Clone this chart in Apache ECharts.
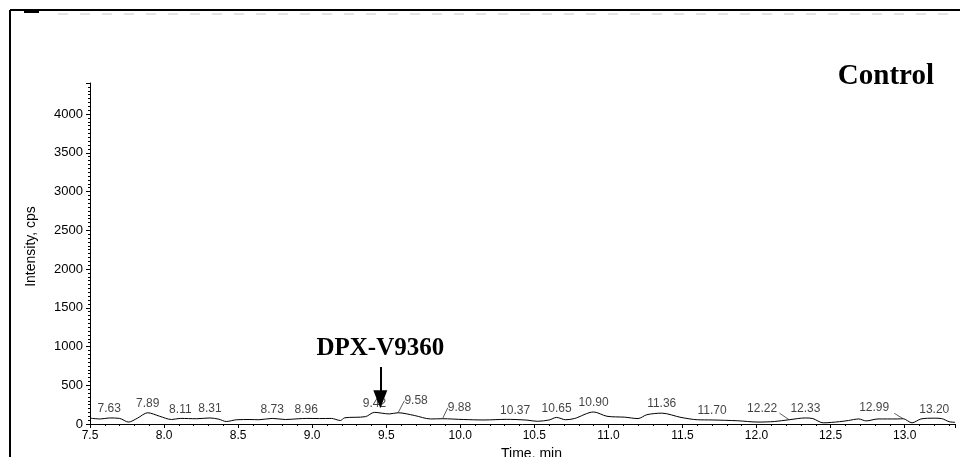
<!DOCTYPE html>
<html>
<head>
<meta charset="utf-8">
<script src="https://cdn.jsdelivr.net/npm/echarts@6/dist/echarts.min.js"></script>
<style>html,body{margin:0;padding:0;background:#fff;overflow:hidden}#c{width:960px;height:457px}</style>
</head>
<body>
<div id="c"></div>
<script>
// Chromatogram trace (time in min, intensity in cps)
var times = [7.50,7.57,7.63,7.70,7.76,7.82,7.89,7.97,8.05,8.11,8.22,8.31,8.37,8.42,8.49,8.58,8.64,8.73,8.82,8.91,8.96,9.05,9.13,9.19,9.22,9.36,9.42,9.52,9.58,9.69,9.80,9.88,10.02,10.16,10.31,10.37,10.45,10.52,10.60,10.65,10.71,10.77,10.90,10.99,11.11,11.20,11.26,11.36,11.49,11.60,11.70,11.87,12.01,12.12,12.22,12.33,12.38,12.45,12.56,12.62,12.69,12.74,12.82,12.95,12.99,13.05,13.11,13.20,13.25,13.30,13.34];
var intensity = [75,65,78,72,25,75,145,100,58,72,68,78,62,32,55,58,55,72,58,68,72,70,72,45,80,95,150,130,145,110,65,68,58,52,60,58,50,35,52,85,55,70,155,100,88,70,120,140,85,55,52,42,25,32,55,78,70,15,30,45,65,40,65,65,68,15,65,75,70,30,22];
// Peak annotations
var peakTimes = [7.63,7.89,8.11,8.31,8.73,8.96,9.42,9.58,9.88,10.37,10.65,10.90,11.36,11.70,12.22,12.33,12.99,13.20];
var peakHeights = [78,145,72,78,72,72,150,145,68,58,85,155,140,52,55,78,68,75];
var peakLabels = ['7.63','7.89','8.11','8.31','8.73','8.96','9.42','9.58','9.88','10.37','10.65','10.90','11.36','11.70','12.22','12.33','12.99','13.20'];
// Axis settings
var xMin = 7.5, xMax = 13.34, xStep = 0.5;
var yMin = 0, yMax = 4400, yStep = 500;
var xName = 'Time, min', yName = 'Intensity, cps';
var compound = 'DPX-V9360', compoundTime = 9.46, arrowTop = 735, arrowEnd = 320;
var panelTitle = 'Control';

// label displacement (pixels) for labels drawn beside their peak
var labelShift = {'9.58': [18, -3], '9.88': [17, -2], '12.22': [-27, -2], '12.99': [-29, -2]};
// leader-line reach (min, cps) for the left-shifted labels
var leaderReach = {'12.22': [-0.065, 85], '12.99': [-0.06, 70]};

var chart = echarts.init(document.getElementById('c'), null, {renderer: 'canvas'});
var trace = times.map(function (t, i) { return [t, intensity[i]]; });
var peaks = peakTimes.map(function (t, i) {
  var s = labelShift[peakLabels[i]];
  return {value: [t, peakHeights[i]], name: peakLabels[i], labelLine: {show: !!(s && s[0] > 0)}};
});
var leaders = [];
peakTimes.forEach(function (t, i) {
  var r = leaderReach[peakLabels[i]];
  if (r) leaders.push([{coord: [t, peakHeights[i]]}, {coord: [t + r[0], peakHeights[i] + r[1]]}]);
});
var sans = 'Liberation Sans, Arial, sans-serif';

chart.setOption({
  backgroundColor: '#fff',
  animation: false,
  grid: {left: 90, right: 5, top: 83, bottom: 33, containLabel: false, outerBoundsMode: 'none'},
  xAxis: {
    type: 'value', min: xMin, max: xMax, interval: xStep,
    name: xName, nameLocation: 'middle', nameGap: 22,
    nameTextStyle: {fontFamily: sans, fontSize: 14, color: '#000', padding: [0, 0, 0, 18]},
    axisLine: {lineStyle: {color: '#000', width: 1}},
    axisTick: {show: true, inside: false, length: 4, lineStyle: {color: '#000'}},
    minorTick: {show: true, splitNumber: 5, length: 2, lineStyle: {color: '#000'}},
    axisLabel: {margin: 6, showMaxLabel: false, fontFamily: sans, fontSize: 12, color: '#000',
      formatter: function (v) { return v.toFixed(1); }},
    splitLine: {show: false}
  },
  yAxis: {
    type: 'value', min: yMin, max: yMax, interval: yStep,
    name: yName, nameLocation: 'middle', nameGap: 52, nameRotate: 90,
    nameTextStyle: {fontFamily: sans, fontSize: 14, color: '#000', padding: [0, 0, 0, 14]},
    axisLine: {show: true, lineStyle: {color: '#000', width: 1}},
    axisTick: {show: true, inside: false, length: 4, lineStyle: {color: '#000'}},
    minorTick: {show: true, splitNumber: 10, length: 2, lineStyle: {color: '#000'}},
    axisLabel: {margin: 7, showMaxLabel: false, fontFamily: sans, fontSize: 13, color: '#000',
      formatter: function (v) { return String(v); }},
    splitLine: {show: false}
  },
  series: [
    {
      type: 'line', data: trace, showSymbol: false, symbol: 'none', smooth: 0.3,
      lineStyle: {color: '#000', width: 1}, z: 3,
      markLine: {
        silent: true, symbol: ['none', 'triangle'], symbolSize: [14, 18],
        lineStyle: {color: '#000', width: 2, type: 'solid'},
        label: {show: true, position: 'start', distance: 6, formatter: compound,
          fontFamily: 'Liberation Serif, Times New Roman, serif', fontWeight: 'bold', fontSize: 25, color: '#000'},
        data: [[{coord: [compoundTime, arrowTop]}, {coord: [compoundTime, arrowEnd]}]]
      }
    },
    {
      type: 'scatter', data: peaks, symbolSize: 0, silent: true, z: 4,
      label: {show: true, position: 'top', distance: 3, formatter: function (p) { return p.name; },
        fontFamily: sans, fontSize: 12, color: '#111'},
      labelLine: {show: false, smooth: false, lineStyle: {color: '#333', width: 0.8}},
      labelLayout: function (p) {
        var s = labelShift[peakLabels[p.dataIndex]];
        return s ? {dx: s[0], dy: s[1]} : {};
      },
      markLine: {
        silent: true, symbol: ['none', 'none'],
        lineStyle: {color: '#333', width: 0.8, type: 'solid'},
        label: {show: false},
        data: leaders
      }
    }
  ],
  graphic: [
    {type: 'line', shape: {x1: 10, y1: 10, x2: 960, y2: 10}, style: {stroke: '#000', lineWidth: 2}},
    {type: 'line', shape: {x1: 10, y1: 10, x2: 10, y2: 457}, style: {stroke: '#000', lineWidth: 2}},
    {type: 'rect', shape: {x: 24, y: 10, width: 15, height: 3}, style: {fill: '#000'}},
    {type: 'line', shape: {x1: 58, y1: 14, x2: 950, y2: 14}, style: {stroke: '#c8c8c8', lineWidth: 1, lineDash: [10, 12]}},
    {type: 'text', right: 26, top: 62, style: {text: panelTitle, font: 'bold 29px "Liberation Serif", "Times New Roman", serif', fill: '#000'}}
  ]
});
</script>
</body>
</html>
